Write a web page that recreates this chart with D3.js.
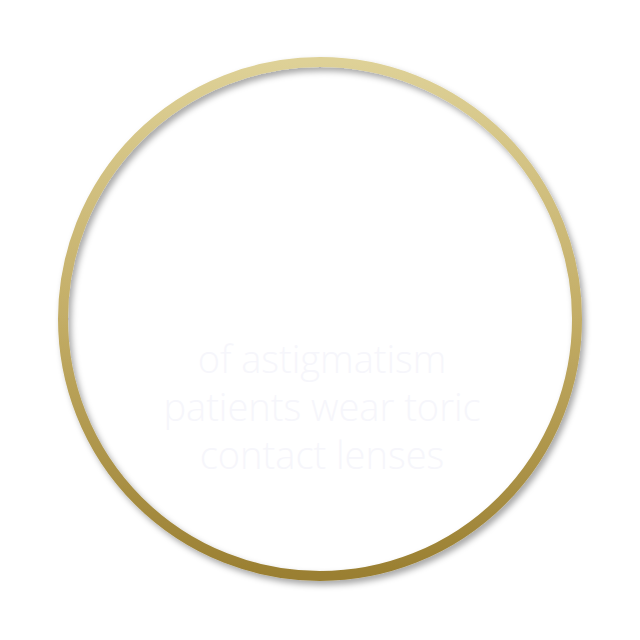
<!DOCTYPE html>
<html><head><meta charset="utf-8">
<script src="https://cdn.jsdelivr.net/npm/d3@7"></script>
<style>body{margin:0;background:#fff}</style>
</head><body>
<script>
var lines = ["of astigmatism", "patients wear toric", "contact lenses"];
var gradStops = [["0%", "#ded197"], ["50%", "#c3ad66"], ["100%", "#9a7f31"]];

var svg = d3.select("body").append("svg").attr("width", 640).attr("height", 640);
var defs = svg.append("defs");
var g = defs.append("linearGradient").attr("id", "gold")
  .attr("x1", 0).attr("y1", 0).attr("x2", 0).attr("y2", 1);
g.selectAll("stop").data(gradStops).enter().append("stop")
  .attr("offset", function(d){ return d[0]; })
  .attr("stop-color", function(d){ return d[1]; });
var f = defs.append("filter").attr("id", "sh").attr("x", "-20%").attr("y", "-20%").attr("width", "140%").attr("height", "140%");
f.append("feDropShadow").attr("dx", 3).attr("dy", 4).attr("stdDeviation", 3)
  .attr("flood-color", "#000").attr("flood-opacity", 0.35);

svg.append("circle").attr("cx", 320).attr("cy", 319).attr("r", 257)
  .attr("fill", "none").attr("stroke", "url(#gold)").attr("stroke-width", 10)
  .attr("filter", "url(#sh)");

svg.selectAll("text.l").data(lines).enter().append("text")
  .attr("class", "l")
  .attr("x", 322).attr("y", function(d, i){ return 373 + i * 48; })
  .attr("text-anchor", "middle")
  .attr("font-family", "'Open Sans', sans-serif").attr("font-weight", 300)
  .attr("font-size", 38).attr("fill", "#f6f6fb")
  .text(function(d){ return d; });
</script>
</body></html>
